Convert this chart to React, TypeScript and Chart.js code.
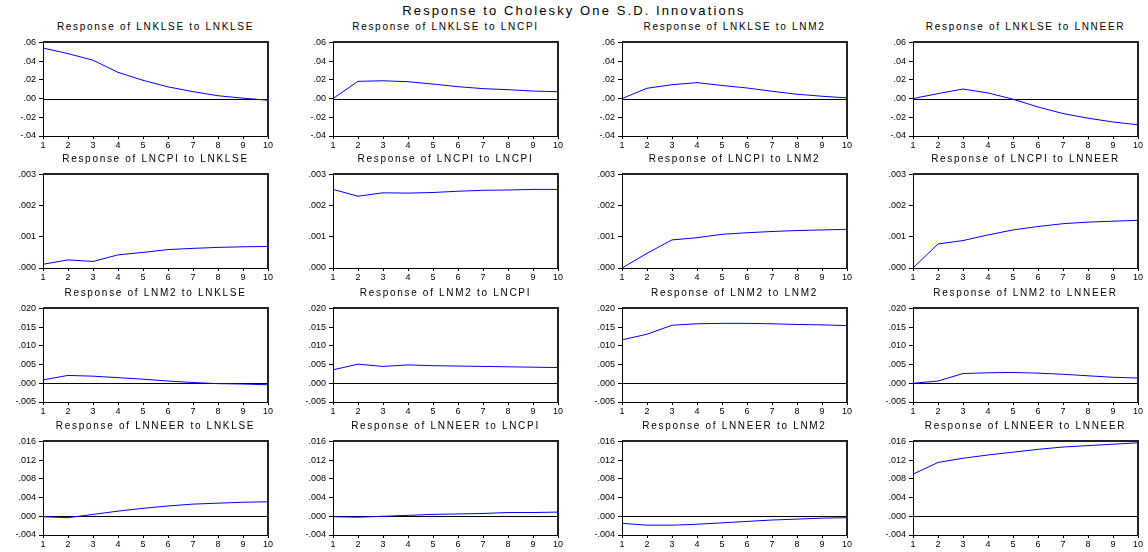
import React, { useEffect, useRef } from "react";
import { Chart, registerables } from "chart.js";
Chart.register(...registerables);

const periods = ["1", "2", "3", "4", "5", "6", "7", "8", "9", "10"];
const variables = ["LNKLSE", "LNCPI", "LNM2", "LNNEER"];
const mainTitle = "Response to Cholesky One S.D. Innovations";

// Row 1: response of LNKLSE
const klseToKlse = [0.054, 0.048, 0.041, 0.028, 0.0195, 0.0125, 0.0074, 0.003, 0.0004, -0.0018];
const klseToCpi = [0.0, 0.0184, 0.019, 0.018, 0.0155, 0.0127, 0.0106, 0.0095, 0.008, 0.0073];
const klseToM2 = [0.0, 0.011, 0.0148, 0.017, 0.014, 0.0113, 0.0078, 0.0046, 0.0025, 0.0007];
const klseToNeer = [0.0, 0.0053, 0.0102, 0.006, -0.0007, -0.009, -0.016, -0.021, -0.025, -0.028];

// Row 2: response of LNCPI
const cpiToKlse = [0.00012, 0.00026, 0.00021, 0.00042, 0.0005, 0.00059, 0.00063, 0.00066, 0.00068, 0.00069];
const cpiToCpi = [0.00252, 0.0023, 0.00241, 0.0024, 0.00242, 0.00246, 0.00249, 0.0025, 0.00252, 0.00252];
const cpiToM2 = [0.0, 0.00047, 0.0009, 0.00097, 0.00108, 0.00113, 0.00117, 0.0012, 0.00122, 0.00124];
const cpiToNeer = [0.0, 0.00077, 0.00088, 0.00106, 0.00122, 0.00133, 0.00142, 0.00147, 0.0015, 0.00153];

// Row 3: response of LNM2
const m2ToKlse = [0.0009, 0.0021, 0.0019, 0.0015, 0.0011, 0.0006, 0.0002, -0.0001, -0.0002, -0.0004];
const m2ToCpi = [0.0036, 0.0051, 0.0045, 0.0049, 0.0047, 0.0046, 0.0045, 0.0044, 0.0043, 0.0042];
const m2ToM2 = [0.0116, 0.0131, 0.0155, 0.0159, 0.016, 0.016, 0.0159, 0.0157, 0.0156, 0.0154];
const m2ToNeer = [0.0, 0.0006, 0.0026, 0.0028, 0.0029, 0.0027, 0.0024, 0.002, 0.0016, 0.0014];

// Row 4: response of LNNEER
const neerToKlse = [-0.0001, -0.0003, 0.0004, 0.0011, 0.0017, 0.0022, 0.0026, 0.0028, 0.003, 0.0031];
const neerToCpi = [-0.0001, -0.0002, 0.0, 0.0002, 0.0004, 0.0005, 0.0006, 0.0008, 0.0008, 0.0009];
const neerToM2 = [-0.0015, -0.0019, -0.0019, -0.0017, -0.0014, -0.0011, -0.0008, -0.0006, -0.0004, -0.0003];
const neerToNeer = [0.009, 0.0115, 0.0124, 0.0131, 0.0137, 0.0143, 0.0148, 0.0151, 0.0154, 0.0157];

// Y tick labels per row
const row1Ticks = [-0.04, -0.02, 0.0, 0.02, 0.04, 0.06];
const row2Ticks = [0.0, 0.001, 0.002, 0.003];
const row3Ticks = [-0.005, 0.0, 0.005, 0.01, 0.015, 0.02];
const row4Ticks = [-0.004, 0.0, 0.004, 0.008, 0.012, 0.016];

const rowSeries = [
  [klseToKlse, klseToCpi, klseToM2, klseToNeer],
  [cpiToKlse, cpiToCpi, cpiToM2, cpiToNeer],
  [m2ToKlse, m2ToCpi, m2ToM2, m2ToNeer],
  [neerToKlse, neerToCpi, neerToM2, neerToNeer],
];
const rowTicks = [row1Ticks, row2Ticks, row3Ticks, row4Ticks];
const rowDecimals = [2, 3, 3, 3];

// Layout
const colLeft = [43, 333, 622, 913];
const rowTop = [42, 174, 308, 441];
const plotW = 225;
const plotH = 94;
const padL = 44;
const padT = 8;
const padR = 12;
const padB = 18;

const FONT = "'Liberation Sans', Arial, sans-serif";

const framePlugin = {
  id: "frame",
  beforeDatasetsDraw(chart: any) {
    const { ctx, chartArea, scales } = chart;
    const y0 = Math.round(scales.y.getPixelForValue(0)) + 0.5;
    ctx.save();
    ctx.strokeStyle = "#000";
    ctx.lineWidth = 1;
    ctx.beginPath();
    ctx.moveTo(chartArea.left, y0);
    ctx.lineTo(chartArea.right, y0);
    ctx.stroke();
    ctx.restore();
  },
  afterDatasetsDraw(chart: any) {
    const { ctx, chartArea } = chart;
    const l = Math.round(chartArea.left) + 0.5;
    const r = Math.round(chartArea.right);
    const t = Math.round(chartArea.top);
    const b = Math.round(chartArea.bottom) + 0.5;
    ctx.save();
    ctx.strokeStyle = "#000";
    ctx.lineWidth = 1;
    ctx.beginPath();
    ctx.moveTo(l, t);
    ctx.lineTo(l, b);
    ctx.lineTo(r, b);
    ctx.stroke();
    ctx.strokeStyle = "#222";
    ctx.lineWidth = 2;
    ctx.beginPath();
    ctx.moveTo(l - 0.5, t);
    ctx.lineTo(r, t);
    ctx.lineTo(r, b + 0.5);
    ctx.stroke();
    ctx.restore();
  },
};

function Panel({ row, col }: { row: number; col: number }) {
  const ref = useRef<HTMLCanvasElement | null>(null);
  const w = plotW + padL + padR;
  const h = plotH + padT + padB;
  useEffect(() => {
    if (!ref.current) return;
    const ticks = rowTicks[row];
    const dec = rowDecimals[row];
    const chart = new Chart(ref.current, {
      type: "line",
      data: {
        labels: periods,
        datasets: [
          {
            data: rowSeries[row][col],
            borderColor: "#0000ff",
            borderWidth: 1,
            pointRadius: 0,
            tension: 0,
            fill: false,
          },
        ],
      },
      options: {
        animation: false,
        responsive: false,
        events: [],
        layout: { padding: { top: padT, right: padR, left: 0, bottom: 0 } },
        plugins: {
          legend: { display: false },
          tooltip: { enabled: false },
          title: { display: false },
        },
        scales: {
          x: {
            type: "category",
            offset: false,
            grid: { drawOnChartArea: false, drawTicks: true, tickLength: 3, color: "#000" },
            border: { display: false },
            ticks: {
              font: { family: FONT, size: 9 },
              color: "#000",
              padding: 1,
              maxRotation: 0,
              autoSkip: false,
            },
            afterFit: (s: any) => {
              s.height = padB;
            },
          },
          y: {
            type: "linear",
            min: ticks[0],
            max: ticks[ticks.length - 1],
            grid: { drawOnChartArea: false, drawTicks: true, tickLength: 4, color: "#000" },
            border: { display: false },
            ticks: {
              font: { family: FONT, size: 9 },
              color: "#000",
              padding: 3,
              callback: (v: any) => Number(v).toFixed(dec).replace("0.", "."),
            },
            afterBuildTicks: (s: any) => {
              s.ticks = ticks.map((v) => ({ value: v }));
            },
            afterFit: (s: any) => {
              s.width = padL;
            },
          },
        },
      },
      plugins: [framePlugin],
    } as any);
    return () => chart.destroy();
  }, [row, col]);
  return (
    <>
      <div
        style={{
          position: "absolute",
          left: colLeft[col] - 40,
          width: plotW + 80,
          top: rowTop[row] - 21,
          height: 12,
          lineHeight: "12px",
          textAlign: "center",
          fontFamily: FONT,
          fontSize: 10,
          letterSpacing: 1.7,
          color: "#000",
          whiteSpace: "nowrap",
        }}
      >
        {`Response of ${variables[row]} to ${variables[col]}`}
      </div>
      <canvas
        ref={ref}
        width={w}
        height={h}
        style={{
          position: "absolute",
          left: colLeft[col] - padL,
          top: rowTop[row] - padT,
          width: w,
          height: h,
        }}
      />
    </>
  );
}

export default function App() {
  const cells: any[] = [];
  for (let r = 0; r < 4; r++) {
    for (let c = 0; c < 4; c++) {
      cells.push(<Panel key={`${r}-${c}`} row={r} col={c} />);
    }
  }
  return (
    <div
      style={{
        position: "absolute",
        left: 0,
        top: 0,
        width: 1148,
        height: 552,
        background: "#fff",
        overflow: "hidden",
      }}
    >
      <div
        style={{
          position: "absolute",
          left: 0,
          width: 1148,
          top: 3,
          height: 16,
          lineHeight: "16px",
          textAlign: "center",
          fontFamily: FONT,
          fontSize: 13,
          letterSpacing: 2.1,
          color: "#000",
        }}
      >
        {mainTitle}
      </div>
      {cells}
    </div>
  );
}
